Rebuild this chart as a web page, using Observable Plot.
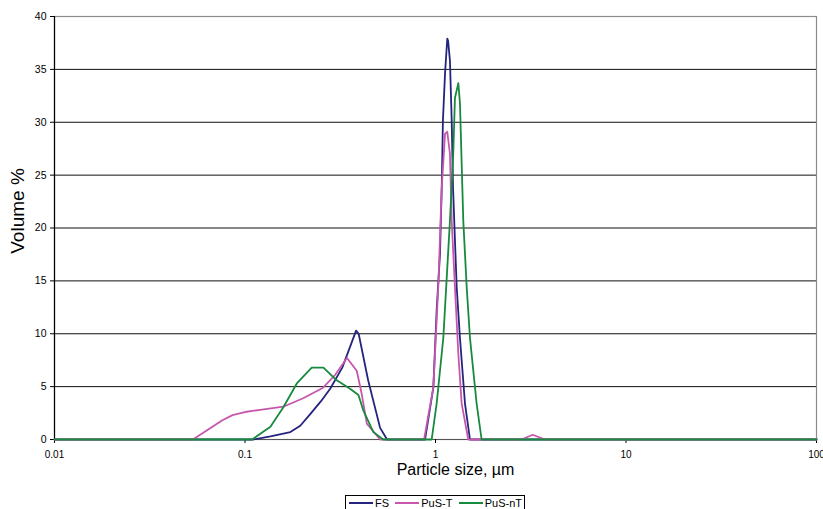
<!DOCTYPE html>
<html>
<head>
<meta charset="utf-8">
<script src="https://cdn.jsdelivr.net/npm/d3@7"></script>
<script src="https://cdn.jsdelivr.net/npm/@observablehq/plot@0.6"></script>
<style>
  html, body { margin: 0; padding: 0; background: #fff; }
  #chart svg { display: block; }
  #legend {
    position: absolute; left: 345px; top: 495px; height: 16px; width: 180px;
    border: 1px solid #000; background: #fff; box-sizing: border-box;
    display: flex; align-items: center; justify-content: space-between; padding: 0 2px 0 3px;
    font-family: "Liberation Sans", Arial, sans-serif; font-size: 11px; color: #000;
  }
  #legend .item { display: flex; align-items: center; }
  #legend .sw { width: 24px; height: 0; border-top: 2px solid; margin-right: 2px; }
</style>
</head>
<body>
<div id="chart"></div>
<div id="legend"></div>
<script>
// ---- data ----
const seriesNames = ["FS", "PuS-T", "PuS-nT"];
const seriesColors = ["#24247e", "#c657ad", "#178a3e"];

const fsSize = [0.01, 0.110, 0.136, 0.173, 0.195, 0.220, 0.250, 0.280, 0.324, 0.360, 0.383, 0.395, 0.443, 0.512, 0.557,
  0.881, 0.974, 1.014, 1.056, 1.078, 1.094, 1.122, 1.153, 1.165, 1.191, 1.216, 1.236, 1.292, 1.344, 1.428, 1.517, 100];
const fsVolume = [0, 0, 0.3, 0.7, 1.3, 2.4, 3.6, 4.8, 6.8, 9.0, 10.3, 10.0, 5.6, 1.1, 0,
  0, 4.9, 12.2, 17.6, 23.8, 30.2, 34.6, 37.9, 37.7, 35.8, 30.2, 23.8, 14.4, 9.6, 3.4, 0, 0];

const pusTSize = [0.01, 0.0533, 0.0757, 0.086, 0.100, 0.120, 0.159, 0.202, 0.257, 0.297, 0.343, 0.386, 0.410, 0.436, 0.512,
  0.871, 0.974, 1.034, 1.078, 1.122, 1.153, 1.191, 1.216, 1.265, 1.318, 1.372, 1.486, 2.83, 3.24, 3.75, 100];
const pusTVolume = [0, 0, 1.8, 2.3, 2.6, 2.8, 3.1, 3.9, 4.9, 6.1, 7.7, 6.5, 4.3, 1.5, 0,
  0, 4.9, 14.4, 23.8, 28.9, 29.1, 27.0, 20.7, 14.4, 8.1, 3.4, 0, 0, 0.45, 0, 0];

const pusNTSize = [0.01, 0.109, 0.136, 0.159, 0.187, 0.224, 0.258, 0.303, 0.356, 0.394, 0.419, 0.472, 0.532,
  0.955, 1.014, 1.099, 1.191, 1.239, 1.265, 1.318, 1.344, 1.399, 1.458, 1.517, 1.644, 1.746, 100];
const pusNTVolume = [0, 0, 1.2, 3.05, 5.3, 6.8, 6.8, 5.6, 4.8, 4.2, 2.7, 0.7, 0,
  0, 3.4, 9.6, 20.7, 27.0, 32.3, 33.7, 31.8, 20.7, 14.4, 9.6, 3.4, 0, 0];

const xTicks = [0.01, 0.1, 1, 10, 100];
const xTickLabels = ["0.01", "0.1", "1", "10", "100"];
const yTicks = [0, 5, 10, 15, 20, 25, 30, 35, 40];
const xLabel = "Particle size, µm";
const yLabel = "Volume %";

// ---- build table ----
const sizes = [fsSize, pusTSize, pusNTSize];
const vols = [fsVolume, pusTVolume, pusNTVolume];
const rows = [];
seriesNames.forEach((name, s) => {
  sizes[s].forEach((x, i) => rows.push({series: name, size: x, volume: vols[s][i]}));
});

const font = "'Liberation Sans', Arial, sans-serif";
const chart = Plot.plot({
  width: 823,
  height: 490,
  marginLeft: 54,
  marginRight: 7,
  marginTop: 16,
  marginBottom: 51,
  x: {type: "log", domain: [0.01, 100]},
  y: {domain: [0, 40]},
  color: {domain: seriesNames, range: seriesColors},
  style: {fontFamily: font, fontSize: "10px", background: "#fff", color: "#000"},
  marks: [
    Plot.ruleY(yTicks.filter(d => d > 0), {stroke: "#111", strokeWidth: 1}),
    Plot.frame({stroke: "#8c8c8c", strokeWidth: 1.2}),
    Plot.ruleX([0.01], {stroke: "#000", strokeWidth: 1.2}),
    Plot.ruleY([0], {stroke: "#555", strokeWidth: 1.2}),
    Plot.axisY(yTicks, {tickSize: 4, tickPadding: 4, label: null, stroke: "#000", fontSize: 10.5}),
    Plot.axisX(xTicks, {tickSize: 4, tickPadding: 7, label: null, stroke: "#000", fontSize: 10,
      tickFormat: d => xTickLabels[xTicks.indexOf(d)]}),
    Plot.line(rows, {x: "size", y: "volume", z: "series", stroke: "series", strokeWidth: 1.8}),
    Plot.text([yLabel], {frameAnchor: "left", textAnchor: "middle", dx: -37, dy: -17, rotate: -90, fontSize: 19, fill: "#000"}),
    Plot.text([xLabel], {frameAnchor: "bottom", textAnchor: "middle", dx: 20, dy: 35, fontSize: 16, fill: "#000"})
  ]
});
document.getElementById("chart").appendChild(chart);

const legend = document.getElementById("legend");
seriesNames.forEach((name, i) => {
  const it = document.createElement("div");
  it.className = "item";
  const sw = document.createElement("span");
  sw.className = "sw";
  sw.style.borderTopColor = seriesColors[i];
  const lb = document.createElement("span");
  lb.textContent = name;
  it.appendChild(sw); it.appendChild(lb);
  legend.appendChild(it);
});
</script>
</body>
</html>
